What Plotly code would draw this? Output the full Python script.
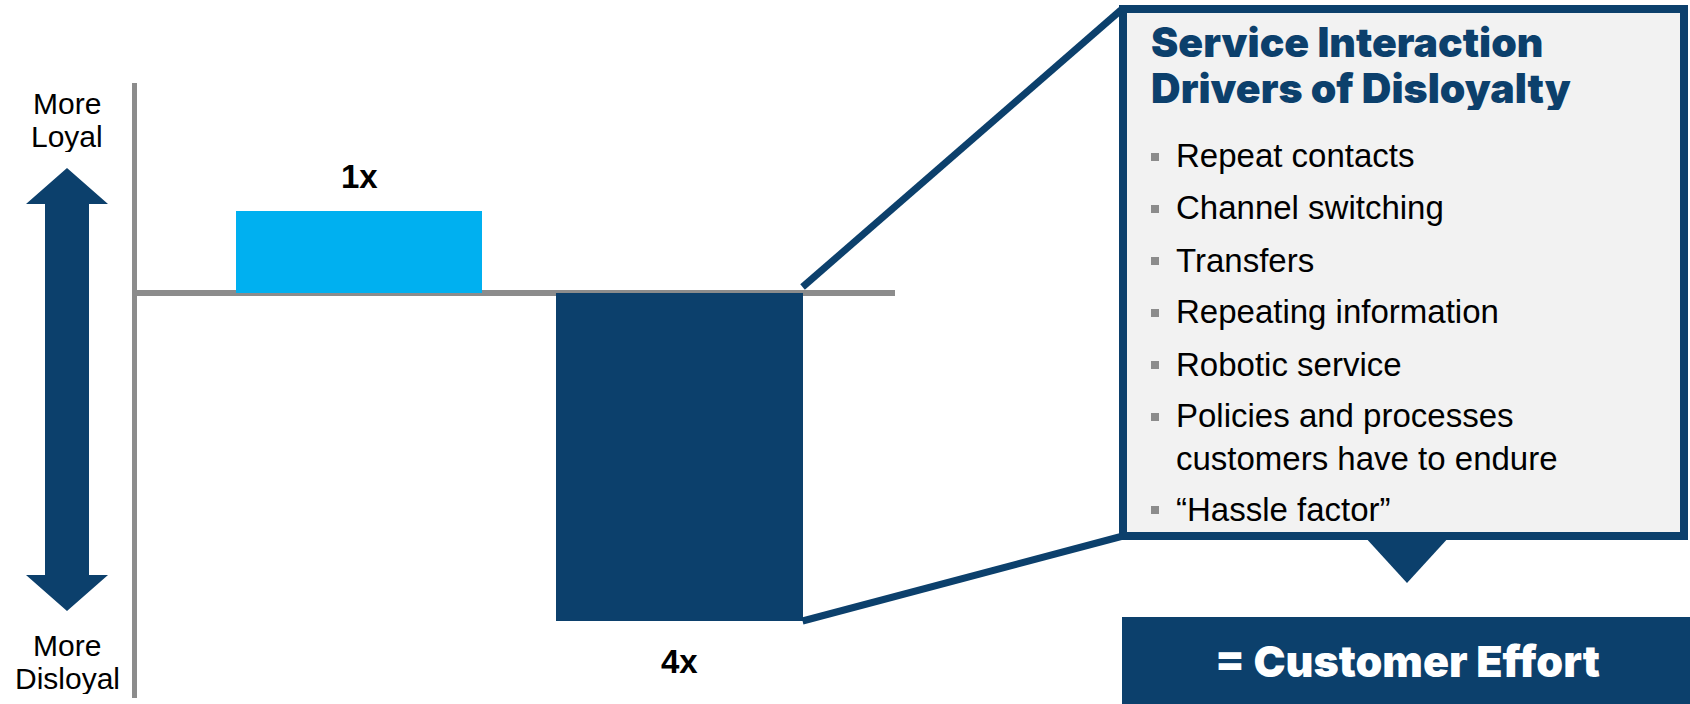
import plotly.graph_objects as go

# ---------------- data ----------------
interactions = ["Positive service interaction", "Negative service interaction"]
loyalty_impact = [1, -4]
impact_labels = ["1x", "4x"]

loyal_end = ["More", "Loyal"]
disloyal_end = ["More", "Disloyal"]

panel_title = ["Service Interaction", "Drivers of Disloyalty"]
drivers = [
    "Repeat contacts",
    "Channel switching",
    "Transfers",
    "Repeating information",
    "Robotic service",
    "Policies and processes<br>customers have to endure",
    "\u201cHassle factor\u201d",
]
panel_result = "= Customer Effort"

# ---------------- styling / geometry ----------------
W, H = 1690, 704
NAVY = "#0C406C"
SKY = "#00B0F0"
GREY = "#8C8C8C"
PANEL = "#F2F2F2"
BODY_FONT = "Liberation Sans, Arial, sans-serif"
HEAVY_FONT = "Inter, sans-serif"

PLOT_LEFT, PLOT_RIGHT = 137, 895
PLOT_TOP, PLOT_BOTTOM = 83, 698
X_RANGE = [-0.6927, 1.6724]
Y_RANGE = [-4.939, 2.561]
BAR_W = 0.768


def px_x(v):
    return PLOT_LEFT + (v - X_RANGE[0]) / (X_RANGE[1] - X_RANGE[0]) * (PLOT_RIGHT - PLOT_LEFT)


def px_y(v):
    return PLOT_TOP + (Y_RANGE[1] - v) / (Y_RANGE[1] - Y_RANGE[0]) * (PLOT_BOTTOM - PLOT_TOP)


def fx(p):
    return p / W


def fy(p):
    return 1 - p / H


fig = go.Figure()
fig.add_trace(
    go.Bar(
        x=list(range(len(interactions))),
        y=loyalty_impact,
        width=BAR_W,
        marker=dict(color=[SKY if v > 0 else NAVY for v in loyalty_impact], line=dict(width=0)),
        customdata=interactions,
        hoverinfo="skip",
    )
)

annotations = []
shapes = []

# value labels above / below each bar
for i, (v, lab) in enumerate(zip(loyalty_impact, impact_labels)):
    annotations.append(
        dict(
            x=i, y=v, xref="x", yref="y", text=f"<b>{lab}</b>", showarrow=False,
            yshift=35 if v > 0 else -40,
            font=dict(family=BODY_FONT, size=33, color="black"),
        )
    )

# loyalty scale arrow at the left
cx = 67
arrow = [
    (cx, 168), (108, 204), (89, 204), (89, 575), (108, 575), (cx, 611),
    (26, 575), (45, 575), (45, 204), (26, 204),
]
shapes.append(
    dict(
        type="path", xref="paper", yref="paper",
        path="M " + " L ".join(f"{fx(a)},{fy(b)}" for a, b in arrow) + " Z",
        fillcolor=NAVY, line=dict(width=0), layer="above",
    )
)
for txt, yy in zip(loyal_end, [103, 136]):
    annotations.append(dict(x=fx(cx), y=fy(yy), xref="paper", yref="paper", text=txt,
                            showarrow=False, xanchor="center", yanchor="middle", height=32,
                            font=dict(family=BODY_FONT, size=30, color="black")))
for txt, yy in zip(disloyal_end, [645, 678]):
    annotations.append(dict(x=fx(cx), y=fy(yy), xref="paper", yref="paper", text=txt,
                            showarrow=False, xanchor="center", yanchor="middle", height=32,
                            font=dict(family=BODY_FONT, size=30, color="black")))

# callout panel
BOX_L, BOX_R, BOX_T, BOX_B = 1123, 1684, 9, 536
shapes.append(dict(type="rect", xref="paper", yref="paper",
                   x0=fx(BOX_L), x1=fx(BOX_R), y0=fy(BOX_B), y1=fy(BOX_T),
                   fillcolor=PANEL, line=dict(color=NAVY, width=8), layer="above"))

# connectors from the negative bar to the panel corners
bar_right = px_x(1 + BAR_W / 2)
shapes.append(dict(type="line", xref="paper", yref="paper",
                   x0=fx(bar_right), y0=fy(px_y(0) - 6), x1=fx(BOX_L - 2), y1=fy(BOX_T + 1),
                   line=dict(color=NAVY, width=7), layer="above"))
shapes.append(dict(type="line", xref="paper", yref="paper",
                   x0=fx(bar_right), y0=fy(px_y(loyalty_impact[1])), x1=fx(BOX_L), y1=fy(BOX_B),
                   line=dict(color=NAVY, width=7), layer="above"))

# pointer below the panel
tri = [(1364, BOX_B), (1450, BOX_B), (1407, 583)]
shapes.append(dict(type="path", xref="paper", yref="paper",
                   path="M " + " L ".join(f"{fx(a)},{fy(b)}" for a, b in tri) + " Z",
                   fillcolor=NAVY, line=dict(width=0), layer="above"))

# result banner
shapes.append(dict(type="rect", xref="paper", yref="paper",
                   x0=fx(1122), x1=fx(1700), y0=fy(710), y1=fy(617),
                   fillcolor=NAVY, line=dict(width=0), layer="above"))
annotations.append(dict(x=fx(1407), y=fy(661), xref="paper", yref="paper",
                        text=panel_result, showarrow=False,
                        xanchor="center", yanchor="middle",
                        font=dict(family=HEAVY_FONT, size=43, color="white", weight=900)))

# panel heading
for txt, yy in zip(panel_title, [42, 88]):
    annotations.append(dict(x=fx(1149), y=fy(yy), xref="paper", yref="paper",
                            text=txt, showarrow=False,
                            xanchor="left", yanchor="middle", height=44,
                            font=dict(family=HEAVY_FONT, size=41, color=NAVY, weight=900)))

# bulleted drivers
ITEM_STEP, WRAP = 52, 41
y = 156
for item in drivers:
    n = item.count("<br>") + 1
    shapes.append(dict(type="rect", xref="paper", yref="paper",
                       x0=fx(1151), x1=fx(1159), y0=fy(y + 5), y1=fy(y - 3),
                       fillcolor="#8C8C8C", line=dict(width=0), layer="above"))
    annotations.append(dict(x=fx(1174), y=fy(y + (n - 1) * WRAP / 2), xref="paper", yref="paper",
                            text=item, showarrow=False, xanchor="left", yanchor="middle",
                            align="left",
                            font=dict(family=BODY_FONT, size=33, color="black")))
    y += ITEM_STEP + (n - 1) * WRAP

fig.update_layout(
    width=W, height=H,
    margin=dict(l=0, r=0, t=0, b=0),
    paper_bgcolor="white", plot_bgcolor="white",
    showlegend=False,
    bargap=0,
    xaxis=dict(domain=[fx(PLOT_LEFT), fx(PLOT_RIGHT)], range=X_RANGE, showgrid=False,
               zeroline=False, showline=False, showticklabels=False, ticks="", fixedrange=True),
    yaxis=dict(domain=[fy(PLOT_BOTTOM), fy(PLOT_TOP)], range=Y_RANGE, showgrid=False,
               zeroline=True, zerolinecolor=GREY, zerolinewidth=6,
               showline=True, linecolor=GREY, linewidth=5,
               showticklabels=False, ticks="", layer="above traces", fixedrange=True),
    shapes=shapes,
    annotations=annotations,
)

fig.write_html("out.html")
